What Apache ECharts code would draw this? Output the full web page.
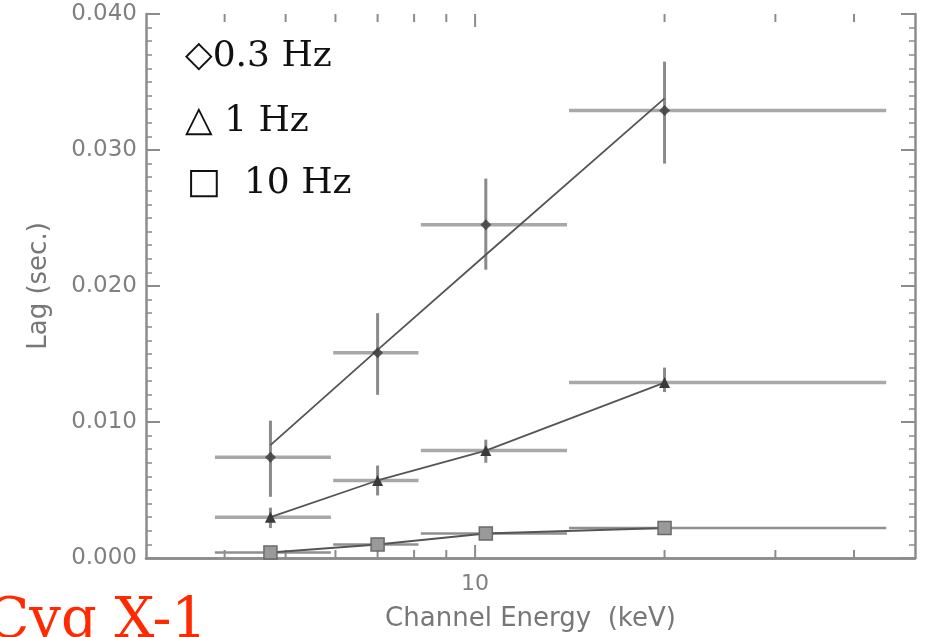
<!DOCTYPE html>
<html><head><meta charset="utf-8">
<script src="https://cdn.jsdelivr.net/npm/echarts@6/dist/echarts.min.js"></script>
<style>html,body{margin:0;padding:0;background:#fff}#chart{width:927px;height:637px}</style>
</head><body><div id="chart"></div>
<script>
// ---- data ----
const energy   = [4.73, 7.0, 10.4, 20.0];          // keV (bin centres)
const energyLo = [3.86, 5.95, 8.2, 14.1];          // keV (bin low edge)
const energyHi = [5.9, 8.13, 14.0, 45.0];          // keV (bin high edge)

const lag03    = [0.0074, 0.0151, 0.0245, 0.0329];
const lag03Lo  = [0.0045, 0.0120, 0.0212, 0.0290];
const lag03Hi  = [0.0101, 0.0180, 0.0279, 0.0365];
const fit03    = [0.0083, 0.0153, 0.0223, 0.0338];

const lag1     = [0.0030, 0.0057, 0.0079, 0.0129];
const lag1Lo   = [0.0022, 0.0046, 0.0070, 0.0122];
const lag1Hi   = [0.0037, 0.0068, 0.0087, 0.0140];

const lag10    = [0.0004, 0.0010, 0.0018, 0.0022];
const lag10Lo  = [0.0002, 0.0008, 0.0016, 0.0020];
const lag10Hi  = [0.0006, 0.0012, 0.0020, 0.0024];

const xMin = 3, xMax = 50;
const yMin = 0, yMax = 0.04, yStep = 0.01;
const xMajorTicks = [10];
const xMinorTicks = [4, 5, 6, 7, 8, 9, 20, 30, 40];
const legendLabels = ['\u25C70.3 Hz', '\u25B3 1 Hz', '\u25A1  10 Hz'];
const xTitle = 'Channel Energy  (keV)';
const yTitle = 'Lag (sec.)';
const sourceName = 'Cyg X-1';

// ---- build chart ----
const axisGray = '#8c8c8c';
const labelFont = '"DejaVu Sans", sans-serif';

function rows(lag, lo, hi) {
  return energy.map((e, i) => [e, lag[i], energyLo[i], energyHi[i], lo[i], hi[i]]);
}
function errorSeries(data, hColor, hWidth, vColor, vWidth) {
  return {
    type: 'custom', silent: true, z: 2, clip: false,
    data: data,
    encode: { x: 0, y: 1 },
    renderItem: function (params, api) {
      const e = api.value(0), l = api.value(1);
      const a = api.coord([api.value(2), l]);
      const b = api.coord([api.value(3), l]);
      const c = api.coord([e, api.value(4)]);
      const d = api.coord([e, api.value(5)]);
      return { type: 'group', children: [
        { type: 'line', shape: { x1: a[0], y1: a[1], x2: b[0], y2: b[1] },
          style: { stroke: hColor, lineWidth: hWidth } },
        { type: 'line', shape: { x1: c[0], y1: c[1], x2: d[0], y2: d[1] },
          style: { stroke: vColor, lineWidth: vWidth } }
      ]};
    }
  };
}
function tickSeries(values, len) {
  return {
    type: 'custom', silent: true, z: 1, clip: false,
    data: values.map(v => [v, yMin]),
    encode: { x: 0, y: 1 },
    renderItem: function (params, api) {
      const b = api.coord([api.value(0), yMin]);
      const t = api.coord([api.value(0), yMax]);
      return { type: 'group', children: [
        { type: 'line', shape: { x1: b[0], y1: b[1], x2: b[0], y2: b[1] - len },
          style: { stroke: axisGray, lineWidth: 2 } },
        { type: 'line', shape: { x1: t[0], y1: t[1], x2: t[0], y2: t[1] + len },
          style: { stroke: axisGray, lineWidth: 2 } }
      ]};
    }
  };
}
function pairs(lag) { return energy.map((e, i) => [e, lag[i]]); }

const chart = echarts.init(document.getElementById('chart'), null, { renderer: 'canvas' });
chart.setOption({
  backgroundColor: '#ffffff',
  animation: false,
  grid: { left: 146, right: 12, top: 14, bottom: 79, containLabel: false, outerBoundsMode: 'none' },
  xAxis: [
    { type: 'log', logBase: 10, min: xMin, max: xMax, position: 'bottom',
      name: xTitle, nameLocation: 'middle', nameGap: 48,
      nameTextStyle: { fontFamily: labelFont, fontSize: 26, color: '#777' },
      axisLine: { show: true, lineStyle: { color: axisGray, width: 2.5 } },
      axisTick: { show: false },
      axisLabel: { showMinLabel: false, showMaxLabel: false, margin: 15,
        fontFamily: labelFont, fontSize: 22, color: '#808080',
        formatter: v => String(Math.round(v)) },
      splitLine: { show: false } },
    { type: 'log', logBase: 10, min: xMin, max: xMax, position: 'top',
      axisLine: { show: true, lineStyle: { color: axisGray, width: 2.5 } },
      axisTick: { show: false },
      axisLabel: { show: false }, splitLine: { show: false } }
  ],
  yAxis: [
    { type: 'value', min: yMin, max: yMax, interval: yStep, position: 'left',
      name: yTitle, nameLocation: 'middle', nameGap: 94, nameRotate: 90,
      nameTextStyle: { fontFamily: labelFont, fontSize: 26, color: '#777' },
      axisLine: { show: true, lineStyle: { color: axisGray, width: 2.5 } },
      axisTick: { show: true, inside: true, length: 14, lineStyle: { color: axisGray, width: 2 } },
      minorTick: { show: true, splitNumber: 10, length: 6, lineStyle: { color: axisGray, width: 1.5 } },
      axisLabel: { margin: 9, fontFamily: labelFont, fontSize: 23, color: '#808080',
        formatter: v => v.toFixed(3) },
      splitLine: { show: false } },
    { type: 'value', min: yMin, max: yMax, interval: yStep, position: 'right',
      axisLine: { show: true, lineStyle: { color: axisGray, width: 2.5 } },
      axisTick: { show: true, inside: true, length: 14, lineStyle: { color: axisGray, width: 2 } },
      minorTick: { show: true, splitNumber: 10, length: 6, lineStyle: { color: axisGray, width: 1.5 } },
      axisLabel: { show: false }, splitLine: { show: false } }
  ],
  series: [
    tickSeries(xMajorTicks, 13),
    tickSeries(xMinorTicks, 8),
    errorSeries(rows(lag03, lag03Lo, lag03Hi), '#a8a8a8', 3.5, '#8a8a8a', 3),
    errorSeries(rows(lag1, lag1Lo, lag1Hi), '#a8a8a8', 3.5, '#8a8a8a', 3),
    errorSeries(rows(lag10, lag10Lo, lag10Hi), '#8f8f8f', 2.5, '#8f8f8f', 2.5),
    { name: '0.3 Hz fit', type: 'line', data: pairs(fit03), z: 3, showSymbol: false,
      lineStyle: { color: '#555', width: 1.8 } },
    { name: '0.3 Hz', type: 'scatter', data: pairs(lag03), z: 4,
      symbol: 'diamond', symbolSize: 11, itemStyle: { color: '#3a3a3a' } },
    { name: '1 Hz', type: 'line', data: pairs(lag1), z: 4,
      symbol: 'triangle', symbolSize: 11, showSymbol: true,
      itemStyle: { color: '#3a3a3a' }, lineStyle: { color: '#555', width: 1.8 } },
    { name: '10 Hz', type: 'line', data: pairs(lag10), z: 4,
      symbol: 'rect', symbolSize: 13, showSymbol: true,
      itemStyle: { color: '#9a9a9a', borderColor: '#6a6a6a', borderWidth: 1.5 },
      lineStyle: { color: '#555', width: 2 } }
  ],
  graphic: [
    { type: 'text', x: 185, y: 57, style: { text: legendLabels[0], fill: '#111',
      font: '36px "DejaVu Serif", serif', verticalAlign: 'middle' } },
    { type: 'text', x: 185, y: 122, style: { text: legendLabels[1], fill: '#111',
      font: '36px "DejaVu Serif", serif', verticalAlign: 'middle' } },
    { type: 'text', x: 187, y: 184, style: { text: legendLabels[2], fill: '#111',
      font: '36px "DejaVu Serif", serif', verticalAlign: 'middle' } },
    { type: 'text', x: 207, y: 650, style: { text: sourceName, fill: '#ff2a00',
      font: '56px "DejaVu Serif", serif', align: 'right', verticalAlign: 'bottom' } }
  ]
});
</script>
</body></html>
